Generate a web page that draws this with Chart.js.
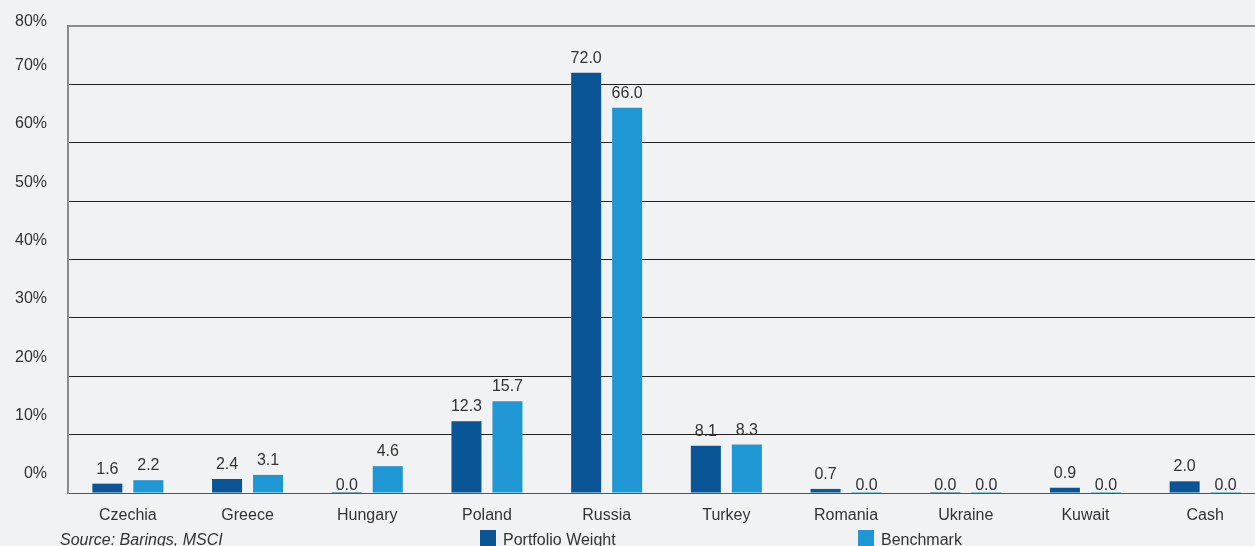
<!DOCTYPE html>
<html>
<head>
<meta charset="utf-8">
<script src="https://cdn.jsdelivr.net/npm/chart.js@4"></script>
<style>
  html, body { margin: 0; padding: 0; background: #f1f2f4; overflow: hidden; }
  #wrap { position: relative; width: 1255px; height: 546px; overflow: hidden; font-family: "Liberation Sans", Arial, sans-serif; color: #333; }
  canvas { position: absolute; left: 0; top: 0; }
  .note { position: absolute; font-size: 16px; white-space: nowrap; }
  .sw { position: absolute; width: 16px; height: 16px; }
</style>
</head>
<body>
<div id="wrap">
  <canvas id="chart" width="1265" height="546"></canvas>
  <div class="note" style="left:60px; top:531px; font-style:italic;">Source: Barings, MSCI</div>
  <div class="sw" style="left:480px; top:530px; background:#0a5596;"></div>
  <div class="note" style="left:503px; top:531px;">Portfolio Weight</div>
  <div class="sw" style="left:858px; top:530px; background:#1e97d4;"></div>
  <div class="note" style="left:881px; top:531px;">Benchmark</div>
</div>
<script>
const categories = ['Czechia', 'Greece', 'Hungary', 'Poland', 'Russia', 'Turkey', 'Romania', 'Ukraine', 'Kuwait', 'Cash'];
const portfolioWeight = [1.6, 2.4, 0.0, 12.3, 72.0, 8.1, 0.7, 0.0, 0.9, 2.0];
const benchmark = [2.2, 3.1, 4.6, 15.7, 66.0, 8.3, 0.0, 0.0, 0.0, 0.0];
const yTicks = [0, 10, 20, 30, 40, 50, 60, 70, 80];

const FONT = '"Liberation Sans", Arial, sans-serif';

// value labels above each bar
const barLabels = {
    id: 'barLabels',
    afterDatasetsDraw(chart) {
        const ctx = chart.ctx;
        ctx.save();
        ctx.font = '16px ' + FONT;
        ctx.fillStyle = '#333';
        ctx.textAlign = 'center';
        ctx.textBaseline = 'alphabetic';
        chart.data.datasets.forEach((ds, i) => {
            chart.getDatasetMeta(i).data.forEach((bar, j) => {
                const v = ds.data[j];
                const gap = v === 0 ? 2 : 10;
                ctx.fillText(v.toFixed(1), bar.x, bar.y - gap);
            });
        });
        ctx.restore();
    }
};

// y labels sit a bit above their gridline, top one clamped
const yLabels = {
    id: 'yLabels',
    afterDraw(chart) {
        const ctx = chart.ctx;
        const scale = chart.scales.y;
        ctx.save();
        ctx.font = '16px ' + FONT;
        ctx.fillStyle = '#333';
        ctx.textAlign = 'right';
        ctx.textBaseline = 'middle';
        yTicks.forEach(v => {
            let y = scale.getPixelForValue(v) - 19;
            if (y < 22) y = 22;
            ctx.fillText(v + '%', 47, y);
        });
        ctx.restore();
    }
};

new Chart(document.getElementById('chart').getContext('2d'), {
    type: 'bar',
    data: {
        labels: categories,
        datasets: [
            {
                label: 'Portfolio Weight',
                data: portfolioWeight,
                backgroundColor: '#0a5596',
                minBarLength: 1
            },
            {
                label: 'Benchmark',
                data: benchmark,
                backgroundColor: '#1e97d4',
                minBarLength: 1
            }
        ]
    },
    options: {
        responsive: false,
        animation: false,
        devicePixelRatio: 1,
        layout: { padding: { top: 26, left: 0, right: 0, bottom: 0 } },
        datasets: { bar: { categoryPercentage: 0.685, barPercentage: 0.732 } },
        plugins: {
            legend: { display: false },
            tooltip: { enabled: false }
        },
        scales: {
            x: {
                grid: { display: false },
                border: { display: false },
                ticks: { font: { size: 16, family: FONT }, color: '#333', padding: 5, maxRotation: 0 },
                afterFit: scale => { scale.height = 53; }
            },
            y: {
                min: 0,
                max: 80,
                ticks: { stepSize: 10, display: false },
                border: { color: '#8c8c8c', width: 2 },
                grid: {
                    drawTicks: false,
                    color: c => c.tick.value === 80 ? '#8c8c8c' : (c.tick.value === 0 ? '#555' : '#222'),
                    lineWidth: c => c.tick.value === 80 ? 2 : 1
                },
                afterFit: scale => { scale.width = 68; }
            }
        }
    },
    plugins: [barLabels, yLabels]
});
</script>
</body>
</html>
